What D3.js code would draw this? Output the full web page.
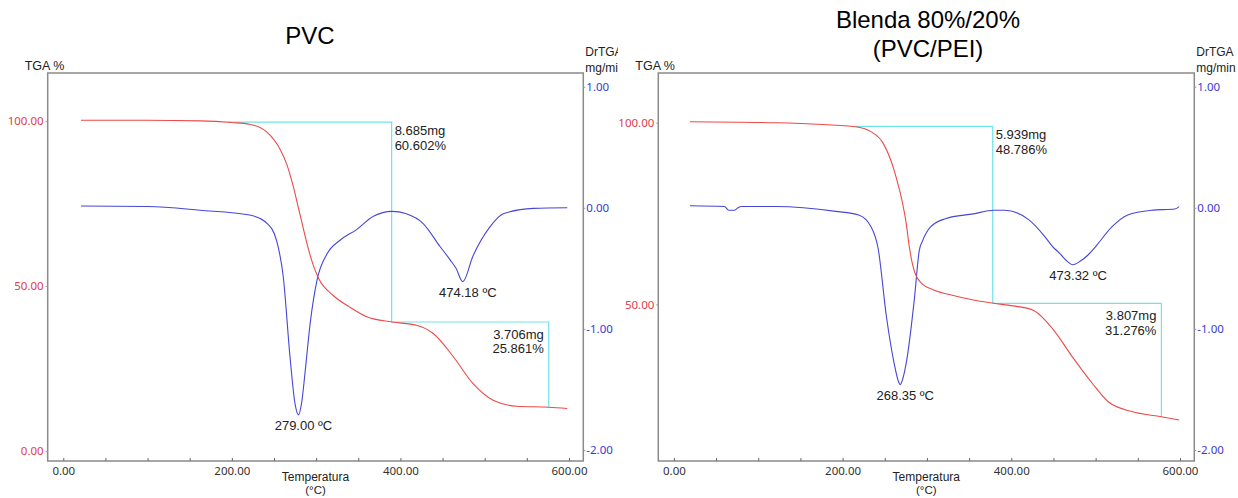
<!DOCTYPE html>
<html>
<head>
<meta charset="utf-8">
<script src="https://cdn.jsdelivr.net/npm/d3@7"></script>
<style>
    html, body { margin: 0; padding: 0; background: #fff; }
    svg { display: block; }
</style>
</head>
<body>
<div id="chart"></div>
<script>
// temperature (°C) / value pairs
var pvcTga = [[21,100.2],[100,100.2],[162,100.0],[200,99.5],[221,99.0],[242,96.5],[257,91.5],[265,87],[272,81],
    [281,71.5],[290,62],[297,56],[303,52.3],[320,47.2],[340,43.6],[360,40.7],[390,39.1],[419,38.1],[439,35.6],
    [463,28.5],[486,20.5],[510,15.4],[538,13.6],[576,13.3],[598,12.9]];
var pvcDtg = [[21,0.015],[100,0.01],[162,-0.02],[221,-0.06],[242,-0.13],[253,-0.27],[261,-0.57],[269,-1.23],
    [275,-1.62],[279,-1.71],[283,-1.6],[287,-1.35],[293,-0.95],[301,-0.6],[313,-0.38],[328,-0.27],[348,-0.18],
    [368,-0.07],[390,-0.03],[407,-0.05],[427,-0.13],[447,-0.32],[459,-0.43],[466,-0.5],[474,-0.61],[486,-0.40],
    [506,-0.16],[522,-0.05],[558,-0.005],[598,0.0]];
var blendTga = [[19,100.3],[121,100],[215,98.9],[234,97.5],[248,94.4],[262,86.2],[276,71.4],[279,66],[286,58.5],
    [295,55.5],[308,54.0],[330,52.5],[355,51.2],[379,50.3],[402,49.6],[426,48.4],[450,43],[472,35.7],[496,28.3],
    [515,23.2],[543,20.5],[578,19.1],[599,18.2]];
var blendDtg = [[19,0.017],[60,0.01],[65,-0.02],[72,-0.02],[76,0.0],[80,0.01],[121,0.01],[192,-0.03],[219,-0.06],
    [234,-0.16],[242,-0.33],[252,-0.9],[261,-1.28],[266,-1.43],[268.4,-1.46],[271,-1.42],[276,-1.26],[285,-0.76],
    [291,-0.35],[295,-0.27],[304,-0.16],[322,-0.09],[355,-0.05],[379,-0.02],[392,-0.02],[421,-0.10],[440,-0.24],
    [449,-0.32],[458,-0.38],[466,-0.44],[473,-0.47],[482,-0.44],[491,-0.39],[500,-0.32],[519,-0.16],[538,-0.06],
    [566,-0.02],[594,-0.01],[599,0.01]];

// step annotations: [start T, top %, step T, bottom %]
var pvcSteps = [[195,99.6,389.6,39.1],[389.6,39.1,576,13.3]];
var blendSteps = [[215,99.0,378,50.3],[378,50.3,578,19.0]];
var pvcStepText = [['8.685mg','60.602%'],['3.706mg','25.861%']];
var blendStepText = [['5.939mg','48.786%'],['3.807mg','31.276%']];

// DrTGA peaks: [T, mg/min, label]
var pvcPeaks = [[279,-1.71,'279.00 ºC'],[474,-0.61,'474.18 ºC']];
var blendPeaks = [[268.35,-1.46,'268.35 ºC'],[473.3,-0.47,'473.32 ºC']];

var xTicks = [0,200,400,600];
var pvcTgaTicks = [0,50,100];
var blendTgaTicks = [50,100];
var dtgTicks = [1,0,-1,-2];

function TgaChart() {

    this.init = function() {
        this._config = { width: 1238, height: 498 };
        this._panels = [
            { title: ['PVC'], titleX: 310, titleY: [44], clip: [0, 618],
              box: { l: 47.7, r: 583.3, t: 73, b: 461 },
              tgaDomain: [-3.0, 114.5], tgaTicks: pvcTgaTicks,
              tga: pvcTga, dtg: pvcDtg, steps: pvcSteps, stepText: pvcStepText, peaks: pvcPeaks },
            { title: ['Blenda 80%/20%', '(PVC/PEI)'], titleX: 928, titleY: [28, 57], clip: [618, 1238],
              box: { l: 658.3, r: 1194.3, t: 73, b: 461 },
              tgaDomain: [6.9, 113.7], tgaTicks: blendTgaTicks,
              tga: blendTga, dtg: blendDtg, steps: blendSteps, stepText: blendStepText, peaks: blendPeaks }
        ];
        this._initElements();
        var self = this;
        this._panels.forEach(function(p, i) { self._drawPanel(p, i); });
    };

    this._initElements = function() {
        this._rootNode = d3.select('#chart')
            .append('svg')
            .attr('width', this._config.width)
            .attr('height', this._config.height);
    };

    this._drawPanel = function(p, i) {
        var root = this._rootNode;
        var b = p.box;
        root.append('clipPath').attr('id', 'clip' + i)
            .append('rect').attr('x', p.clip[0]).attr('y', 0)
            .attr('width', p.clip[1] - p.clip[0]).attr('height', this._config.height);
        var g = root.append('g').attr('clip-path', 'url(#clip' + i + ')');

        var x = d3.scaleLinear().domain([-18.5, 617]).range([b.l, b.r]);
        var yT = d3.scaleLinear().domain(p.tgaDomain).range([b.b, b.t]);
        var yD = d3.scaleLinear().domain([-2.091, 1.113]).range([b.b, b.t]);

        // titles
        p.title.forEach(function(t, k) {
            g.append('text').attr('x', p.titleX).attr('y', p.titleY[k])
                .attr('text-anchor', 'middle')
                .style('font-family', 'Liberation Sans, Arial, sans-serif')
                .style('font-size', '24px').attr('fill', '#000').text(t);
        });

        // frame
        g.append('rect').attr('x', b.l).attr('y', b.t)
            .attr('width', b.r - b.l).attr('height', b.b - b.t)
            .attr('fill', 'none').attr('stroke', '#8a8a8a').attr('stroke-width', 1.5);

        var axisFont = 'Noto Sans, Open Sans, sans-serif';
        var labelFont = 'Liberation Sans, Arial, sans-serif';

        // bottom axis
        var xa = g.append('g').attr('transform', 'translate(0,' + b.b + ')')
            .call(d3.axisBottom(x).tickValues(d3.range(0, 601, 50))
                .tickFormat(function(d) { return xTicks.indexOf(d) >= 0 ? d.toFixed(2) : ''; })
                .tickSize(-3).tickPadding(6));
        xa.select('.domain').remove();
        xa.selectAll('line').attr('stroke', '#666');
        xa.selectAll('text').style('font-family', axisFont).style('font-size', '11.5px').attr('fill', '#333');

        // left TGA axis
        var la = g.append('g').attr('transform', 'translate(' + b.l + ',0)')
            .call(d3.axisLeft(yT).tickValues(p.tgaTicks)
                .tickFormat(function(d) { return d.toFixed(2); })
                .tickSize(2).tickPadding(2));
        la.select('.domain').remove();
        la.selectAll('line').attr('stroke', '#999');
        la.selectAll('text').style('font-family', axisFont).style('font-size', '11.5px').attr('fill', '#e0404c');

        // right DrTGA axis
        var ra = g.append('g').attr('transform', 'translate(' + b.r + ',0)')
            .call(d3.axisRight(yD).tickValues(dtgTicks)
                .tickFormat(function(d) { return d.toFixed(2); })
                .tickSize(2).tickPadding(1));
        ra.select('.domain').remove();
        ra.selectAll('line').attr('stroke', '#999');
        ra.selectAll('text').style('font-family', axisFont).style('font-size', '11.5px').attr('fill', '#3a3ad6');

        // axis titles
        var titles = [
            ['TGA %', b.l - 23, 70, 'start', 12.5],
            ['DrTGA', b.r + 2, 56, 'start', 12],
            ['mg/min', b.r + 2, 72, 'start', 12],
            ['Temperatura', (b.l + b.r) / 2, 481, 'middle', 12],
            ['(°C)', (b.l + b.r) / 2, 494, 'middle', 11.5]
        ];
        titles.forEach(function(t) {
            g.append('text').attr('x', t[1]).attr('y', t[2]).attr('text-anchor', t[3])
                .style('font-family', labelFont).style('font-size', t[4] + 'px')
                .attr('fill', '#222').text(t[0]);
        });

        // step lines
        p.steps.forEach(function(s) {
            var pts = [[x(s[0]), yT(s[1])], [x(s[2]), yT(s[1])], [x(s[2]), yT(s[3])]];
            g.append('path').attr('d', d3.line()(pts))
                .attr('fill', 'none').attr('stroke', '#6fe3ea').attr('stroke-width', 1.2);
        });

        var lineT = d3.line().curve(d3.curveMonotoneX)
            .x(function(d) { return x(d[0]); }).y(function(d) { return yT(d[1]); });
        var lineD = d3.line().curve(d3.curveMonotoneX)
            .x(function(d) { return x(d[0]); }).y(function(d) { return yD(d[1]); });

        g.append('path').datum(p.dtg).attr('d', lineD)
            .attr('fill', 'none').attr('stroke', '#4646d8').attr('stroke-width', 1.1);
        g.append('path').datum(p.tga).attr('d', lineT)
            .attr('fill', 'none').attr('stroke', '#ec4a48').attr('stroke-width', 1.1);

        // step texts
        p.stepText.forEach(function(tx, k) {
            var s = p.steps[k];
            var first = k === 0;
            var sx = first ? x(s[2]) + 3 : x(s[2]) - 5;
            var sy = yT(s[1]);
            tx.forEach(function(t, j) {
                g.append('text').attr('x', sx).attr('y', sy + (first ? 13 : 17) + j * 14.5)
                    .attr('text-anchor', first ? 'start' : 'end')
                    .style('font-family', labelFont).style('font-size', '13px')
                    .attr('fill', '#222').text(t);
            });
        });

        // peak labels
        p.peaks.forEach(function(pk) {
            g.append('text').attr('x', x(pk[0]) + 5).attr('y', yD(pk[1]) + 15)
                .attr('text-anchor', 'middle')
                .style('font-family', labelFont).style('font-size', '13px')
                .attr('fill', '#222').text(pk[2]);
        });
    };

    this.init();
}

function initApp() {
    if (typeof(window.tgaChart) === 'undefined') {
        window.tgaChart = new TgaChart();
    }
}
document.addEventListener('DOMContentLoaded', initApp);
</script>
</body>
</html>
